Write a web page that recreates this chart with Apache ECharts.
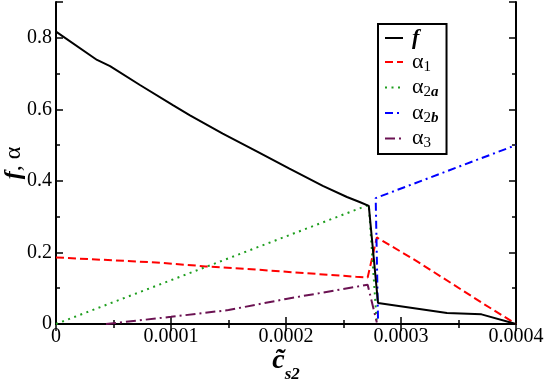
<!DOCTYPE html>
<html>
<head>
<meta charset="utf-8">
<script src="https://cdn.jsdelivr.net/npm/echarts@6/dist/echarts.min.js"></script>
<style>
html, body { margin: 0; padding: 0; background: #fff; }
#chart { width: 545px; height: 382px; }
</style>
</head>
<body>
<div id="chart"></div>
<script>
// values, [x, y] pairs
const fData = [[0, 0.817], [0.0000357, 0.738], [0.000047, 0.721], [0.000073, 0.668], [0.000102, 0.611],
	[0.0001165, 0.583], [0.000145, 0.532], [0.000175, 0.482], [0.000203, 0.434], [0.000232, 0.386],
	[0.000253, 0.355], [0.000264, 0.341], [0.000272, 0.33], [0.00028, 0.059], [0.00034, 0.031],
	[0.00037, 0.027], [0.0004, 0]]
const a1Data = [[0, 0.186], [0.000087, 0.172], [0.00013, 0.161], [0.000174, 0.152], [0.000261, 0.132],
	[0.000271, 0.13], [0.000279, 0.242], [0.000314, 0.175], [0.000371, 0.058], [0.0004, 0]]
const a2aData = [[0, 0], [0.000272, 0.333], [0.000279, 0]]
const a2bData = [[0.00028, 0.015], [0.000278, 0.352], [0.0004, 0.5]]
const a3Data = [[0.0000435, 0], [0.0001, 0.02], [0.00015, 0.039], [0.0002, 0.07], [0.000261, 0.104],
	[0.000271, 0.11], [0.000279, 0.004]]

const seriesNames = ['f', 'α1', 'α2a', 'α2b', 'α3']
const legendLabels = {
	'f': '{f|f}',
	'α1': '{a|α}{s|1}',
	'α2a': '{a|α}{s|2}{si|a}',
	'α2b': '{a|α}{s|2}{si|b}',
	'α3': '{a|α}{s|3}'
}
const xTitle = '{c|c\u0303}{s|s2}'
const yTitle = '{f|f}{n|, α}'

const serif = 'Liberation Serif'
const black = '#000'

function tickAxis(position, interval, length, labels) {
	return {
		type: 'value',
		position: position,
		min: 0,
		max: 0.9,
		interval: interval,
		axisLine: { show: interval === 0.2, lineStyle: { color: black, width: 2 } },
		axisTick: { inside: true, length: length, lineStyle: { color: black, width: 1.5 } },
		splitLine: { show: false },
		axisLabel: labels ? {
			color: black, fontFamily: serif, fontSize: 20, margin: 4,
			formatter: v => v > 0.85 ? '' : (v === 0 ? '0' : v.toFixed(1))
		} : { show: false }
	}
}

function xTickAxis(position, labels) {
	return {
		type: 'value',
		position: position,
		min: 0,
		max: 0.0004,
		interval: 0.0001,
		axisLine: { lineStyle: { color: black, width: 2 } },
		axisTick: { inside: true, length: 7, lineStyle: { color: black, width: 1.5 } },
		minorTick: { show: true, splitNumber: 2, length: 4, lineStyle: { color: black, width: 1.5 } },
		splitLine: { show: false },
		axisLabel: labels ? {
			color: black, fontFamily: serif, fontSize: 20, margin: 3,
			formatter: v => v === 0 ? '0' : v.toFixed(4)
		} : { show: false }
	}
}

function lineSeries(name, data, color, dash) {
	return {
		name: name,
		type: 'line',
		data: data,
		symbol: 'none',
		animation: false,
		color: color,
		lineStyle: { color: color, width: 2, type: dash }
	}
}

const chart = echarts.init(document.getElementById('chart'))

chart.setOption({
	backgroundColor: '#fff',
	grid: { left: 56, right: 29, top: 2, bottom: 58, containLabel: false, outerBoundsMode: 'none' },
	xAxis: [xTickAxis('bottom', true), xTickAxis('top', false)],
	yAxis: [tickAxis('left', 0.2, 7, true), tickAxis('left', 0.1, 4, false), tickAxis('right', 0.2, 7, false), tickAxis('right', 0.1, 4, false)],
	graphic: [
		{
			type: 'text', x: 286, y: 361,
			style: {
				text: xTitle, align: 'center', verticalAlign: 'middle',
				rich: {
					c: { fontFamily: serif, fontSize: 28, fontWeight: 'bold', fontStyle: 'italic', fill: black },
					s: { fontFamily: serif, fontSize: 17, fontWeight: 'bold', fontStyle: 'italic', fill: black, padding: [28, 0, 0, 0] }
				}
			}
		},
		{
			type: 'text', x: 14, y: 163, rotation: Math.PI / 2,
			style: {
				text: yTitle, align: 'center', verticalAlign: 'middle',
				rich: {
					f: { fontFamily: serif, fontSize: 24, fontWeight: 'bold', fontStyle: 'italic', fill: black },
					n: { fontFamily: serif, fontSize: 24, fill: black }
				}
			}
		}
	],
	legend: {
		data: seriesNames,
		orient: 'vertical',
		left: 378,
		top: 24,
		backgroundColor: '#fff',
		borderColor: black,
		borderWidth: 2,
		borderRadius: 0,
		padding: [3, 8, 3, 6],
		itemWidth: 18,
		itemHeight: 10,
		itemGap: 2,
		itemStyle: { opacity: 0 },
		formatter: name => legendLabels[name],
		textStyle: {
			color: black,
			rich: {
				f: { fontFamily: serif, fontSize: 22, fontWeight: 'bold', fontStyle: 'italic', color: black, padding: [0, 0, 0, 4] },
				a: { fontFamily: serif, fontSize: 22, color: black, padding: [0, 0, 0, 4] },
				s: { fontFamily: serif, fontSize: 15, color: black, padding: [10, 0, 0, 0] },
				si: { fontFamily: serif, fontSize: 15, fontStyle: 'italic', fontWeight: 'bold', color: black, padding: [10, 0, 0, 0] }
			}
		}
	},
	series: [
		lineSeries('α1', a1Data, '#ff0000', [8, 4]),
		lineSeries('α2a', a2aData, '#1e9e1e', [2, 4.5]),
		lineSeries('α2b', a2bData, '#0000ff', [8, 4, 2, 4]),
		lineSeries('α3', a3Data, '#6b1252', [10, 4, 2, 4]),
		lineSeries('f', fData, '#000', 'solid')
	]
})
</script>
</body>
</html>
